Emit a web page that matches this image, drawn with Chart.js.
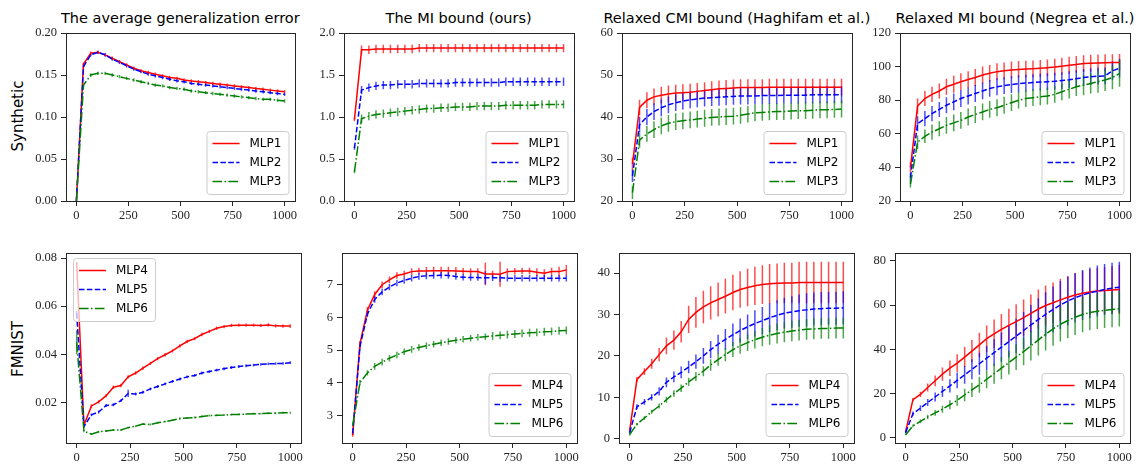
<!DOCTYPE html>
<html><head><meta charset="utf-8">
<script src="https://cdn.jsdelivr.net/npm/chart.js@4"></script>
<style>
body{margin:0;width:1143px;height:464px;background:#fff;position:relative;overflow:hidden;font-family:"DejaVu Sans";}
canvas{position:absolute;}
.title{position:absolute;font:14.5px "DejaVu Sans";color:#000;white-space:nowrap;transform:translateX(-50%);line-height:17px;}
.row{position:absolute;font:15px "DejaVu Sans";color:#000;white-space:nowrap;transform:translate(-50%,-50%) rotate(-90deg);line-height:18px;}
</style></head><body>
<script>
// ---------- DATA ----------
const steps = [0,34,69,103,138,172,207,241,276,310,345,379,414,448,483,517,552,586,621,655,690,724,759,793,828,862,897,931,966,1000];
const xTicks = [0,250,500,750,1000];

const titles = ["The average generalization error","The MI bound (ours)","Relaxed CMI bound (Haghifam et al.)","Relaxed MI bound (Negrea et al.)"];
const rowLabels = ["Synthetic","FMNIST"];
const synLabels = ["MLP1","MLP2","MLP3"];
const fmLabels = ["MLP4","MLP5","MLP6"];

// Synthetic: average generalization error
const genSyn1 = [0.000,0.163,0.176,0.177,0.174,0.170,0.166,0.162,0.158,0.155,0.153,0.151,0.149,0.147,0.146,0.144,0.143,0.142,0.141,0.140,0.139,0.138,0.137,0.136,0.135,0.134,0.133,0.132,0.131,0.130];
const genSyn2 = [0.000,0.160,0.174,0.177,0.174,0.169,0.165,0.161,0.157,0.154,0.151,0.149,0.147,0.145,0.143,0.142,0.140,0.139,0.138,0.137,0.136,0.135,0.134,0.133,0.132,0.131,0.130,0.129,0.128,0.127];
const genSyn3 = [0.000,0.138,0.150,0.152,0.152,0.150,0.148,0.146,0.144,0.142,0.140,0.138,0.137,0.135,0.134,0.133,0.131,0.130,0.129,0.128,0.127,0.126,0.125,0.124,0.123,0.122,0.121,0.121,0.120,0.119];
const genSynErr = [0.000,0.002,0.002,0.002,0.002,0.002,0.002,0.002,0.002,0.002,0.002,0.002,0.002,0.002,0.002,0.002,0.002,0.002,0.002,0.002,0.002,0.002,0.002,0.002,0.002,0.002,0.002,0.002,0.002,0.002];
const genSynTicks = [0,0.05,0.10,0.15,0.20];

// Synthetic: MI bound (ours)
const miSyn1 = [0.97,1.80,1.80,1.81,1.81,1.81,1.81,1.81,1.81,1.82,1.82,1.82,1.82,1.82,1.82,1.82,1.82,1.82,1.82,1.82,1.82,1.82,1.82,1.82,1.82,1.82,1.82,1.82,1.82,1.82];
const miSyn2 = [0.63,1.32,1.35,1.37,1.38,1.38,1.39,1.39,1.39,1.40,1.40,1.40,1.40,1.40,1.41,1.41,1.41,1.41,1.41,1.41,1.41,1.42,1.42,1.42,1.42,1.42,1.42,1.42,1.42,1.42];
const miSyn3 = [0.35,0.98,1.01,1.03,1.04,1.05,1.06,1.07,1.08,1.09,1.10,1.10,1.11,1.11,1.12,1.12,1.12,1.13,1.13,1.13,1.13,1.14,1.14,1.14,1.14,1.14,1.15,1.15,1.15,1.15];
const miSynErr = [0.02,0.05,0.05,0.05,0.05,0.05,0.05,0.05,0.05,0.05,0.05,0.05,0.05,0.05,0.05,0.05,0.05,0.05,0.05,0.05,0.05,0.05,0.05,0.05,0.05,0.05,0.05,0.05,0.05,0.05];
const miSynTicks = [0,0.5,1.0,1.5,2.0];

// Synthetic: relaxed CMI bound
const cmiSyn1 = [28.8,42.3,44.0,44.8,45.2,45.5,45.7,45.8,45.9,46.1,46.3,46.5,46.7,46.8,46.9,47.0,47.0,47.0,47.0,47.1,47.1,47.1,47.1,47.1,47.1,47.1,47.1,47.1,47.1,47.1];
const cmiSyn2 = [26.0,38.2,40.0,41.3,42.2,42.9,43.4,43.8,44.1,44.3,44.5,44.6,44.7,44.8,44.9,45.0,45.0,45.0,45.1,45.1,45.1,45.2,45.2,45.2,45.2,45.3,45.3,45.3,45.3,45.3];
const cmiSyn3 = [22.0,34.5,36.0,37.0,37.9,38.5,38.9,39.1,39.3,39.5,39.7,39.9,40.0,40.1,40.2,40.4,40.7,41.0,41.1,41.2,41.3,41.3,41.4,41.5,41.5,41.6,41.7,41.7,41.8,41.9];
const cmiSynErr = [1.5,1.8,1.9,2.0,2.0,2.0,2.0,2.0,2.0,2.0,2.0,2.0,2.0,2.0,2.0,2.0,2.0,2.0,2.0,2.0,2.0,2.0,2.0,2.0,2.0,2.0,2.0,2.0,2.0,2.0];
const cmiSynTicks = [20,30,40,50,60];

// Synthetic: relaxed MI bound (Negrea)
const negSyn1 = [40.0,76.5,81.0,83.5,85.5,88.0,89.5,91.0,92.3,93.5,95.0,96.0,97.0,97.5,98.0,98.3,98.5,98.7,99.0,99.3,99.7,100.2,100.8,101.3,101.8,102.0,102.2,102.3,102.4,102.5];
const negSyn2 = [34.0,66.0,69.0,72.0,74.5,77.0,79.0,81.0,82.5,84.0,85.5,87.0,88.0,88.7,89.3,89.8,90.2,90.5,90.8,91.0,91.3,91.7,92.2,92.8,93.5,94.0,94.3,94.5,97.5,99.0];
const negSyn3 = [30.0,55.0,58.5,61.0,63.0,65.0,66.5,68.0,70.0,71.5,73.0,74.5,75.5,77.0,78.5,80.0,81.0,81.5,82.0,82.5,83.5,85.0,86.5,88.0,89.0,90.0,91.0,92.0,93.5,96.0];
const negSynErr1 = [3.0,4.5,4.5,4.5,4.5,4.8,5.0,5.0,5.0,5.0,5.0,5.0,5.0,5.0,5.0,5.0,5.0,5.0,5.0,5.0,5.0,5.0,5.0,5.0,5.0,5.0,5.0,5.0,5.0,5.0];
const negSynErr2 = [2.5,4.5,4.5,4.5,4.5,4.8,5.0,5.0,5.0,5.0,5.0,5.0,5.0,5.0,5.0,5.0,5.0,5.0,5.0,5.0,5.0,5.0,5.0,5.0,5.0,5.0,5.0,5.0,5.5,5.5];
const negSynErr3 = [2.0,4.0,4.0,4.5,4.5,5.0,5.0,5.0,5.0,5.0,5.0,5.0,5.0,5.0,5.0,5.0,5.0,5.0,5.0,5.0,5.0,5.0,5.5,5.5,6.0,6.0,6.5,6.5,7.0,8.0];
const negSynTicks = [20,40,60,80,100,120];

// FMNIST: average generalization error
const genFm4 = [0.078,0.0105,0.0185,0.0202,0.0228,0.0263,0.0270,0.0306,0.0322,0.0342,0.0362,0.0382,0.0398,0.0414,0.0435,0.0453,0.0465,0.0482,0.0495,0.0508,0.0515,0.0520,0.0521,0.0521,0.0521,0.0520,0.0522,0.0518,0.0517,0.0517];
const genFm5 = [0.057,0.0100,0.0148,0.0160,0.0187,0.0190,0.0207,0.0237,0.0235,0.0242,0.0256,0.0266,0.0277,0.0287,0.0297,0.0306,0.0312,0.0322,0.0328,0.0334,0.0340,0.0345,0.0349,0.0352,0.0355,0.0358,0.0360,0.0361,0.0362,0.0365];
const genFm6 = [0.045,0.0080,0.0068,0.0078,0.0081,0.0085,0.0085,0.0095,0.0101,0.0110,0.0108,0.0115,0.0120,0.0126,0.0133,0.0135,0.0137,0.0141,0.0145,0.0146,0.0147,0.0149,0.0150,0.0151,0.0153,0.0153,0.0155,0.0155,0.0157,0.0157];
const genFmErr4 = [0.0005,0.0007,0.0007,0.0007,0.0007,0.0007,0.0007,0.0007,0.0007,0.0007,0.0007,0.0007,0.0007,0.0007,0.0007,0.0007,0.0007,0.0007,0.0007,0.0007,0.0007,0.0007,0.0007,0.0007,0.0007,0.0007,0.0007,0.0007,0.0007,0.0008];
const genFmErr5 = [0.0010,0.0006,0.0006,0.0006,0.0006,0.0006,0.0006,0.0015,0.0006,0.0006,0.0006,0.0006,0.0006,0.0006,0.0006,0.0006,0.0006,0.0006,0.0006,0.0006,0.0006,0.0006,0.0006,0.0006,0.0006,0.0006,0.0006,0.0006,0.0006,0.0006];
const genFmErr6 = [0.0050,0.0004,0.0004,0.0004,0.0004,0.0004,0.0004,0.0004,0.0004,0.0004,0.0004,0.0004,0.0004,0.0004,0.0004,0.0004,0.0004,0.0004,0.0004,0.0004,0.0004,0.0004,0.0004,0.0004,0.0004,0.0004,0.0004,0.0004,0.0004,0.0004];
const genFmTicks = [0.02,0.04,0.06,0.08];

// FMNIST: MI bound (ours)
const miFm4 = [2.40,5.20,6.22,6.70,7.00,7.15,7.28,7.33,7.40,7.42,7.42,7.43,7.43,7.43,7.42,7.41,7.40,7.40,7.33,7.33,7.32,7.40,7.41,7.42,7.42,7.38,7.35,7.40,7.40,7.45];
const miFm5 = [2.45,5.10,6.10,6.55,6.78,6.93,7.05,7.13,7.20,7.25,7.27,7.28,7.29,7.28,7.25,7.23,7.22,7.22,7.21,7.21,7.21,7.20,7.20,7.20,7.20,7.20,7.20,7.20,7.20,7.20];
const miFm6 = [2.70,4.00,4.30,4.50,4.63,4.75,4.85,4.95,5.02,5.08,5.13,5.18,5.22,5.26,5.30,5.33,5.36,5.39,5.41,5.43,5.45,5.47,5.49,5.51,5.53,5.54,5.56,5.57,5.59,5.60];
const miFmErr4 = [0.05,0.08,0.10,0.10,0.10,0.10,0.10,0.10,0.10,0.10,0.12,0.12,0.12,0.12,0.12,0.10,0.10,0.10,0.35,0.10,0.38,0.10,0.10,0.10,0.10,0.12,0.12,0.12,0.15,0.15];
const miFmErr5 = [0.05,0.08,0.10,0.10,0.10,0.10,0.10,0.10,0.10,0.10,0.10,0.10,0.10,0.10,0.10,0.10,0.10,0.10,0.20,0.10,0.12,0.10,0.10,0.10,0.10,0.10,0.10,0.10,0.10,0.10];
const miFmErr6 = [0.05,0.08,0.08,0.10,0.10,0.10,0.10,0.10,0.10,0.10,0.10,0.10,0.10,0.10,0.10,0.10,0.10,0.10,0.10,0.12,0.12,0.12,0.12,0.12,0.12,0.12,0.12,0.12,0.12,0.12];
const miFmTicks = [3,4,5,6,7];

// FMNIST: relaxed CMI bound
const cmiFm4 = [2.0,14.3,16.2,18.1,20.3,22.4,23.8,25.8,28.8,30.5,31.8,32.8,33.6,34.4,35.3,36.0,36.5,36.9,37.2,37.4,37.5,37.6,37.6,37.7,37.7,37.7,37.7,37.7,37.7,37.7];
const cmiFm5 = [1.5,7.7,8.9,10.0,11.4,13.6,14.9,16.0,17.3,18.6,20.0,21.5,22.8,24.0,25.1,26.1,27.0,27.8,28.5,29.2,29.8,30.3,30.6,30.9,31.1,31.3,31.4,31.5,31.5,31.6];
const cmiFm6 = [1.0,3.5,5.0,6.5,7.9,9.4,10.9,12.2,13.7,15.0,16.3,17.8,19.1,20.3,21.5,22.4,23.2,23.9,24.5,25.0,25.4,25.7,26.0,26.2,26.4,26.5,26.6,26.6,26.7,26.7];
const cmiFmErr4 = [0.5,0.6,0.8,1.2,1.6,2.0,2.3,2.6,3.3,3.7,3.9,4.0,4.1,4.2,4.3,4.4,4.5,4.6,4.7,4.8,4.8,4.9,4.9,5.0,5.0,5.0,5.0,5.0,5.0,5.0];
const cmiFmErr5 = [0.3,0.6,0.7,0.8,1.0,1.2,1.3,1.4,1.5,1.7,1.9,2.1,2.3,2.5,2.7,2.9,3.0,3.2,3.3,3.5,3.6,3.7,3.8,3.9,4.0,4.0,4.0,4.0,4.0,4.0];
const cmiFmErr6 = [0.2,0.3,0.4,0.5,0.6,0.7,0.8,0.9,1.0,1.1,1.2,1.4,1.5,1.6,1.8,1.9,2.0,2.1,2.2,2.3,2.4,2.4,2.5,2.5,2.5,2.5,2.5,2.5,2.5,2.5];
const cmiFmTicks = [0,10,20,30,40];

// FMNIST: relaxed MI bound (Negrea)
const negFm4 = [3.0,17.3,19.7,22.8,25.8,28.8,31.5,33.8,36.5,39.2,42.0,44.8,47.0,49.0,50.8,52.5,54.3,56.2,58.2,59.8,61.0,62.3,63.5,64.5,65.3,65.9,66.3,66.6,66.8,67.0];
const negFm5 = [2.5,11.0,13.5,16.0,18.5,21.0,23.5,26.0,28.5,31.0,33.5,36.0,38.5,41.0,43.5,46.0,48.5,51.0,53.5,55.8,58.0,60.0,61.8,63.3,64.5,65.5,66.3,67.0,67.6,68.0];
const negFm6 = [1.5,5.5,7.5,9.5,11.3,13.0,15.0,17.0,19.4,21.7,24.0,26.5,29.0,31.5,34.0,36.5,39.0,41.6,44.2,46.8,49.2,51.3,53.0,54.5,55.7,56.6,57.2,57.6,58.0,58.3];
const negFmErr4 = [0.5,0.8,1.2,1.8,2.4,3.0,3.5,4.0,4.5,5.0,5.5,6.0,6.5,7.0,7.5,7.8,8.2,8.5,8.8,9.0,9.2,9.4,9.6,9.8,10.0,10.2,10.4,10.6,10.8,11.0];
const negFmErr5 = [0.5,1.0,1.3,1.6,2.0,2.5,3.0,3.5,4.0,4.5,5.0,5.5,6.0,6.6,7.2,7.8,8.4,9.0,9.5,10.0,10.4,10.8,11.0,11.2,11.3,11.4,11.5,11.5,11.5,11.5];
const negFmErr6 = [0.3,0.6,0.8,1.0,1.3,1.6,2.0,2.4,2.8,3.2,3.6,4.0,4.5,5.0,5.4,5.8,6.2,6.6,7.0,7.3,7.6,7.8,8.0,8.0,8.0,8.0,8.0,8.0,8.0,8.0];
const negFmTicks = [0,20,40,60,80];

// ---------- STYLE / LAYOUT ----------
const colors = ['#ff0000','#0000ff','#008000'];
const barColors = ['rgba(255,0,0,0.7)','rgba(0,0,255,0.7)','rgba(0,128,0,0.7)'];
const dashes = [[], [5.5,2.4], [9.6,2.4,1.5,2.4]];
const axisColor = '#262626';
const tickFont = {family:'"Liberation Serif", "DejaVu Serif", serif', size:12.5};

const panels = [
  {L:65.7,R:295,T:33.3,B:201,ymin:0,ymax:0.2,dec:2,yTicks:genSynTicks,labels:synLabels,series:[genSyn1,genSyn2,genSyn3],errs:[genSynErr,genSynErr,genSynErr],leg:'lr'},
  {L:343.5,R:573.8,T:33.3,B:201,ymin:0,ymax:2,dec:1,yTicks:miSynTicks,labels:synLabels,series:[miSyn1,miSyn2,miSyn3],errs:[miSynErr,miSynErr,miSynErr],leg:'lr'},
  {L:621.7,R:852,T:33.3,B:201,ymin:20,ymax:60,dec:0,yTicks:cmiSynTicks,labels:synLabels,series:[cmiSyn1,cmiSyn2,cmiSyn3],errs:[cmiSynErr,cmiSynErr,cmiSynErr],leg:'lr'},
  {L:900,R:1130,T:33.3,B:201,ymin:20,ymax:120,dec:0,yTicks:negSynTicks,labels:synLabels,series:[negSyn1,negSyn2,negSyn3],errs:[negSynErr1,negSynErr2,negSynErr3],leg:'lr'},
  {L:65.6,R:300.7,T:253.3,B:443.3,ymin:0.0031,ymax:0.0821,dec:2,yTicks:genFmTicks,labels:fmLabels,series:[genFm4,genFm5,genFm6],errs:[genFmErr4,genFmErr5,genFmErr6],leg:'ul'},
  {L:342.3,R:577,T:253.3,B:443.3,ymin:2.155,ymax:7.97,dec:0,yTicks:miFmTicks,labels:fmLabels,series:[miFm4,miFm5,miFm6],errs:[miFmErr4,miFmErr5,miFmErr6],leg:'lr'},
  {L:619,R:854,T:253.3,B:443.3,ymin:-1.04,ymax:44.83,dec:0,yTicks:cmiFmTicks,labels:fmLabels,series:[cmiFm4,cmiFm5,cmiFm6],errs:[cmiFmErr4,cmiFmErr5,cmiFmErr6],leg:'lr'},
  {L:895,R:1130,T:253.3,B:443.3,ymin:-2.26,ymax:83.47,dec:0,yTicks:negFmTicks,labels:fmLabels,series:[negFm4,negFm5,negFm6],errs:[negFmErr4,negFmErr5,negFmErr6],leg:'lr'}
];

// titles & row labels (real text)
panels.slice(0,4).forEach((p,i)=>{
  const d=document.createElement('div'); d.className='title'; d.textContent=titles[i];
  d.style.left=((p.L+p.R)/2)+'px'; d.style.top='10px'; document.body.appendChild(d);
});
[[116,rowLabels[0]],[349,rowLabels[1]]].forEach(([cy,t])=>{
  const d=document.createElement('div'); d.className='row'; d.textContent=t;
  d.style.left='18px'; d.style.top=cy+'px'; document.body.appendChild(d);
});

// ---------- PLUGINS ----------
const errorBars = {
  id:'errorBars',
  beforeDatasetsDraw(chart){
    const {ctx, chartArea:a, scales:{x,y}} = chart;
    ctx.save();
    ctx.beginPath(); ctx.rect(a.left,a.top,a.right-a.left,a.bottom-a.top); ctx.clip();
    chart.data.datasets.forEach(ds=>{
      if(!ds.errors) return;
      ctx.strokeStyle = ds.barColor; ctx.lineWidth = 1.5; ctx.setLineDash([]);
      ctx.beginPath();
      ds.data.forEach((p,i)=>{
        const px = x.getPixelForValue(p.x);
        ctx.moveTo(px, y.getPixelForValue(p.y - ds.errors[i]));
        ctx.lineTo(px, y.getPixelForValue(p.y + ds.errors[i]));
      });
      ctx.stroke();
    });
    ctx.restore();
  }
};
const frame = {
  id:'frame',
  afterDatasetsDraw(chart){
    const {ctx, chartArea:a} = chart;
    ctx.save(); ctx.strokeStyle=axisColor; ctx.lineWidth=1; ctx.setLineDash([]);
    ctx.strokeRect(Math.round(a.left)+0.5, Math.round(a.top)+0.5, Math.round(a.right-a.left), Math.round(a.bottom-a.top));
    ctx.restore();
  }
};
const boxLegend = {
  id:'boxLegend',
  afterDraw(chart, args, opts){
    const {ctx, chartArea:a} = chart;
    const w=82, h=63;
    let x, y;
    if(opts.pos==='ul'){ x=a.left+7; y=a.top+5; } else { x=a.right-6.5-w; y=a.bottom-7-h; }
    ctx.save();
    ctx.beginPath();
    if(ctx.roundRect) ctx.roundRect(x+0.5,y+0.5,w,h,3); else ctx.rect(x+0.5,y+0.5,w,h);
    ctx.fillStyle='rgba(255,255,255,0.7)'; ctx.fill();
    ctx.strokeStyle='#cccccc'; ctx.lineWidth=1; ctx.stroke();
    ctx.font='12px "DejaVu Sans"'; ctx.textBaseline='middle'; ctx.fillStyle='#000';
    chart.data.datasets.forEach((ds,i)=>{
      const cy = y + 12.5 + i*19;
      ctx.strokeStyle=ds.borderColor; ctx.lineWidth=1.5; ctx.setLineDash(ds.borderDash||[]);
      ctx.beginPath(); ctx.moveTo(x+6,cy); ctx.lineTo(x+33,cy); ctx.stroke();
      ctx.setLineDash([]);
      ctx.fillText(ds.label, x+43, cy+0.5);
    });
    ctx.restore();
  }
};

// ---------- CHARTS ----------
panels.forEach(p=>{
  const padL=2, padT=12, padR=20, padB=2, yW=48, xH=24;
  const cw = Math.round((p.R-p.L)+padL+yW+padR);
  const chH = Math.round((p.B-p.T)+padT+xH+padB);
  const c=document.createElement('canvas');
  c.width=cw; c.height=chH;
  c.style.width=cw+'px'; c.style.height=chH+'px';
  c.style.left=(p.L-padL-yW)+'px'; c.style.top=(p.T-padT)+'px';
  document.body.appendChild(c);
  const datasets = p.series.map((vals,i)=>({
    label:p.labels[i],
    data:steps.map((s,k)=>({x:s,y:vals[k]})),
    errors:p.errs[i],
    barColor:barColors[i],
    borderColor:colors[i],
    borderDash:dashes[i],
    borderWidth:1.5,
    pointRadius:0,
    fill:false,
    tension:0,
    order:2-i
  }));
  new Chart(c,{
    type:'line',
    data:{datasets},
    plugins:[errorBars,frame,boxLegend],
    options:{
      responsive:false, animation:false, devicePixelRatio:1,
      layout:{padding:{left:padL,top:padT,right:padR,bottom:padB}},
      plugins:{legend:{display:false},tooltip:{enabled:false},title:{display:false},boxLegend:{pos:p.leg}},
      scales:{
        x:{type:'linear',min:-50,max:1050,
          afterBuildTicks:s=>{s.ticks=xTicks.map(v=>({value:v}));},
          afterFit:s=>{s.height=xH;},
          ticks:{font:tickFont,color:axisColor,padding:2,autoSkip:false,maxRotation:0,callback:v=>String(v)},
          grid:{drawOnChartArea:false,drawTicks:true,tickLength:5,color:axisColor,tickWidth:1},
          border:{display:true,color:axisColor,width:1}},
        y:{type:'linear',min:p.ymin,max:p.ymax,
          afterBuildTicks:s=>{s.ticks=p.yTicks.map(v=>({value:v}));},
          afterFit:s=>{s.width=yW;},
          ticks:{font:tickFont,color:axisColor,padding:4,autoSkip:false,callback:v=>Number(v).toFixed(p.dec)},
          grid:{drawOnChartArea:false,drawTicks:true,tickLength:5,color:axisColor,tickWidth:1},
          border:{display:true,color:axisColor,width:1}}
      }
    }
  });
});
</script>
</body></html>
